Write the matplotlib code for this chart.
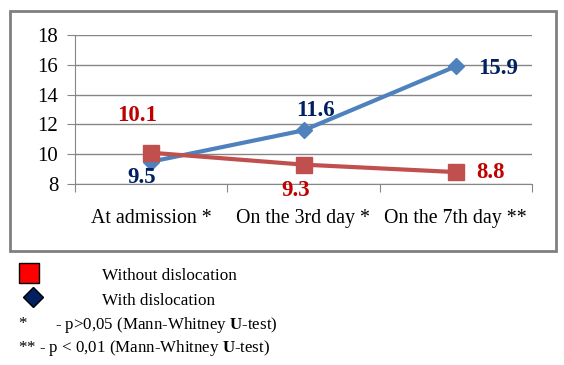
import matplotlib
matplotlib.use('Agg')
import matplotlib.pyplot as plt
from matplotlib.patches import Rectangle

categories = ['At admission *', 'On the 3rd day *', 'On the 7th day **']
with_disl = [9.5, 11.6, 15.9]
without_disl = [10.1, 9.3, 8.8]
y_ticks = [8, 10, 12, 14, 16, 18]

# label offsets in pixels (dx, dy)
with_offsets = [(-9, -16), (12, 20), (42, -2)]
without_offsets = [(-14, 37), (-8, -26), (35, 0)]

BLUE = '#4F81BD'
RED = '#C0504D'
NAVY = '#002060'
DARKRED = '#C00000'
GRID = '#868686'

plt.rcParams['font.family'] = ['Liberation Serif', 'DejaVu Serif']
plt.rcParams['font.size'] = 14
plt.rcParams['mathtext.fontset'] = 'custom'
plt.rcParams['mathtext.rm'] = 'Liberation Serif'
plt.rcParams['mathtext.bf'] = 'Liberation Serif:bold'

fig = plt.figure(figsize=(5.64, 3.65), dpi=100)
ax = fig.add_axes([75/564, 1-184/365, (532-75)/564, (184-35)/365])

x = list(range(len(categories)))
ax.plot(x, with_disl, color=BLUE, lw=3, marker='D', ms=8, zorder=3)
ax.plot(x, without_disl, color=RED, lw=3, marker='s', ms=11, zorder=4)

for xi, v, off in zip(x, with_disl, with_offsets):
    ax.annotate(f'{v}', (xi, v), xytext=off, textcoords='offset pixels',
                ha='center', va='center', color=NAVY, fontweight='bold', fontsize=16.5, zorder=5)
for xi, v, off in zip(x, without_disl, without_offsets):
    ax.annotate(f'{v}', (xi, v), xytext=off, textcoords='offset pixels',
                ha='center', va='center', color=DARKRED, fontweight='bold', fontsize=16.5, zorder=5)

ax.set_xlim(-0.5, 2.5)
ax.set_ylim(8, 18)
ax.set_yticks(y_ticks)
ax.yaxis.grid(True, color=GRID, lw=1)
ax.set_axisbelow(True)
ax.set_xticks([-0.5, 0.5, 1.5, 2.5])
ax.set_xticklabels([])
ax.set_xticks(x, minor=True)
ax.set_xticklabels(categories, minor=True, fontsize=14.3)
ax.tick_params(axis='x', which='major', length=6, color=GRID)
ax.tick_params(axis='x', which='minor', length=0, pad=18)
ax.tick_params(axis='y', length=6, color=GRID, pad=6, labelsize=15)
for s in ['top', 'right']:
    ax.spines[s].set_visible(False)
for s in ['left', 'bottom']:
    ax.spines[s].set_color(GRID)

fig.patches.append(Rectangle((10/564, 1-251/365), 546/564, 240/365, transform=fig.transFigure,
                             fill=False, edgecolor='#808080', lw=2))

# legend area below chart
fig.add_artist(plt.Line2D([29/564], [1-273/365], marker='s', ms=14, mfc='#FF0000',
                          mec='black', mew=1, transform=fig.transFigure))
fig.text(102/564, 1-276/365, 'Without dislocation', va='center', fontsize=12.3)
fig.add_artist(plt.Line2D([33/564], [1-297/365], marker='D', ms=10, mfc=NAVY,
                          mec='black', mew=1, transform=fig.transFigure))
fig.text(102/564, 1-301/365, 'With dislocation', va='center', fontsize=12.3)
fig.text(18/564, 1-324/365, '*', va='center', fontsize=12.2)
fig.text(55/564, 1-325/365, r'- p>0,05 (Mann-Whitney $\mathbf{U}$-test)', va='center', fontsize=12.2)
fig.text(18/564, 1-348/365, r'** - p < 0,01 (Mann-Whitney $\mathbf{U}$-test)', va='center', fontsize=12.2)

fig.savefig('out.png', dpi=100)
